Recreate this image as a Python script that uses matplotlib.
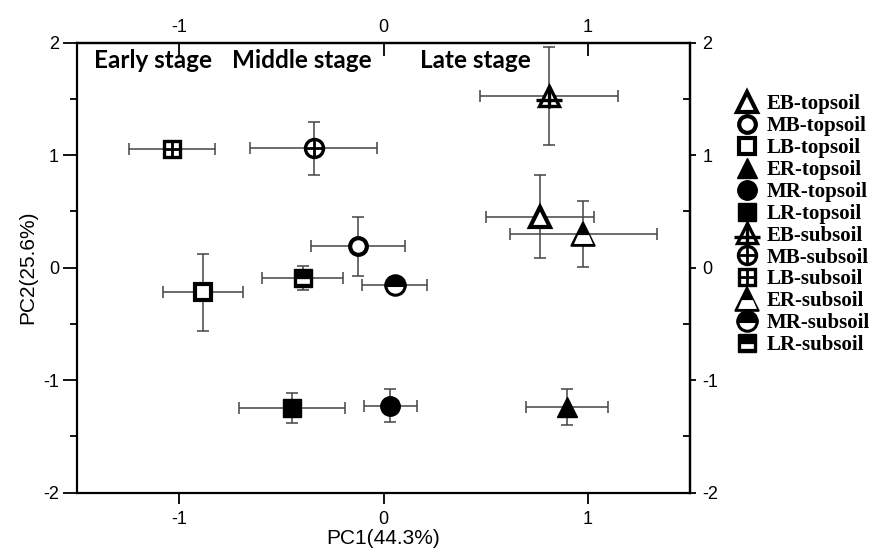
import matplotlib
matplotlib.use("Agg")
import matplotlib.pyplot as plt
from matplotlib.legend_handler import HandlerTuple
from matplotlib.lines import Line2D
from matplotlib.markers import MarkerStyle
from matplotlib.path import Path
from matplotlib.transforms import Affine2D
from matplotlib.ticker import MultipleLocator

# ---- data ----
labels = ["EB-topsoil", "MB-topsoil", "LB-topsoil", "ER-topsoil", "MR-topsoil", "LR-topsoil",
          "EB-subsoil", "MB-subsoil", "LB-subsoil", "ER-subsoil", "MR-subsoil", "LR-subsoil"]
pc1 = [0.765, -0.126, -0.884, 0.897, 0.034, -0.446, 0.81, -0.342, -1.036, 0.978, 0.055, -0.396]
pc2 = [0.455, 0.19, -0.22, -1.24, -1.226, -1.247, 1.527, 1.06, 1.054, 0.30, -0.154, -0.092]
pc1_err = [0.265, 0.23, 0.194, 0.2, 0.13, 0.26, 0.34, 0.31, 0.21, 0.36, 0.16, 0.2]
pc2_err = [0.37, 0.26, 0.34, 0.16, 0.145, 0.134, 0.435, 0.235, 0.0, 0.29, 0.05, 0.11]
stage_labels = ["Early stage", "Middle stage", "Late stage"]
ticks_x = [-1, 0, 1]
ticks_y = [-2, -1, 0, 1, 2]

plt.rcParams['font.family'] = ['Liberation Sans', 'DejaVu Sans']
plt.rcParams['axes.unicode_minus'] = False

# custom markers
M, L = Path.MOVETO, Path.LINETO
tri_cross = Path([(0, 1), (0, -1.25), (-1.3, -0.45), (1.3, -0.45)], [M, L, M, L])
tri_band = Path([(-0.8, -0.8), (0.8, -0.8), (0.47, -0.05), (-0.47, -0.05), (-0.8, -0.8)],
                closed=True)
sq_bar = MarkerStyle('s', transform=Affine2D().scale(0.62, 0.2).translate(0, -0.17))

K = 'black'
W = 'white'

def style(i):
    if i == 0:
        return [dict(marker='^', ms=15, mfc=W, mec=K, mew=3)]
    if i == 1:
        return [dict(marker='o', ms=12, mfc=W, mec=K, mew=3)]
    if i == 2:
        return [dict(marker='s', ms=11, mfc=W, mec=K, mew=3)]
    if i == 3:
        return [dict(marker='^', ms=15, mfc=K, mec=K, mew=1)]
    if i == 4:
        return [dict(marker='o', ms=14, mfc=K, mec=K, mew=1)]
    if i == 5:
        return [dict(marker='s', ms=13, mfc=K, mec=K, mew=1)]
    if i == 6:
        return [dict(marker='^', ms=14, mfc=W, mec=K, mew=2.4),
                dict(marker=tri_cross, ms=14 * 1.3, mfc='none', mec=K, mew=2.4)]
    if i == 7:
        return [dict(marker='o', ms=13, mfc=W, mec=K, mew=2.4),
                dict(marker='+', ms=12, mfc='none', mec=K, mew=2.0)]
    if i == 8:
        return [dict(marker='s', ms=11, mfc=W, mec=K, mew=2.4),
                dict(marker='+', ms=10, mfc='none', mec=K, mew=2.0)]
    if i == 9:
        return [dict(marker='^', ms=17, mfc=K, mec=K, mew=1.2),
                dict(marker=tri_band, ms=17 * 0.8, mfc=W, mec='none', mew=0)]
    if i == 10:
        return [dict(marker='o', ms=14, mfc=K, mec=K, mew=2.2, fillstyle='top',
                     markerfacecoloralt=W)]
    if i == 11:
        return [dict(marker='s', ms=13, mfc=K, mec=K, mew=1),
                dict(marker=sq_bar, ms=13, mfc=W, mec=W, mew=0.5)]

fig = plt.figure(figsize=(8.85, 5.53), dpi=100)
ax = fig.add_axes([77/885, 1 - 492.7/553, (690-77)/885, (492.7-42.7)/553])
ax.set_xlim(-1.5, 1.5)
ax.set_ylim(-2, 2)

for i in range(len(labels)):
    ax.errorbar(pc1[i], pc2[i], xerr=pc1_err[i], yerr=pc2_err[i] if pc2_err[i] > 0 else None,
                fmt='none', ecolor='#444444', elinewidth=1.1, capsize=4, capthick=1.1, zorder=2)
    for kw in style(i):
        ax.plot([pc1[i]], [pc2[i]], linestyle='none', zorder=3, **kw)

for sp in ax.spines.values():
    sp.set_linewidth(1.6)
ax.set_xticks(ticks_x)
ax.set_yticks(ticks_y)
ax.yaxis.set_minor_locator(MultipleLocator(0.5))
ax.tick_params(axis='x', which='major', direction='out', length=8, width=1.3, labelsize=13, pad=5)
ax.tick_params(axis='y', which='major', direction='out', length=10, width=1.3, labelsize=13, pad=3)
ax.tick_params(axis='y', which='minor', direction='out', length=5, width=1.3)

secx = ax.secondary_xaxis('top')
secx.set_xticks(ticks_x)
secx.tick_params(direction='in', length=9, width=1.3, labelsize=13, pad=5)
secy = ax.secondary_yaxis('right')
secy.set_yticks(ticks_y)
secy.yaxis.set_minor_locator(MultipleLocator(0.5))
secy.tick_params(which='major', direction='out', length=4, width=1.3, labelsize=13, pad=5)
secy.tick_params(which='minor', direction='in', length=5, width=1.3)
for sp in list(secx.spines.values()) + list(secy.spines.values()):
    sp.set_linewidth(1.6)

ax.set_xlabel("PC1(44.3%)", fontsize=15, labelpad=1)
ax.set_ylabel("PC2(25.6%)", fontsize=15, labelpad=4)

stage_x = [0.028, 0.253, 0.560]
for sx, s in zip(stage_x, stage_labels):
    ax.text(sx, 0.96, s, transform=ax.transAxes, ha='left', va='center',
            fontsize=17.5, fontweight='bold', family=['Lato', 'DejaVu Sans'])

handles = []
for i in range(len(labels)):
    hs = tuple(Line2D([], [], linestyle='none', **kw) for kw in style(i))
    handles.append(hs)
leg = fig.legend(handles, labels, handler_map={tuple: HandlerTuple(ndivide=1)},
                 loc='upper left', bbox_to_anchor=(723/885, 1 - 84/553),
                 frameon=False, handlelength=1.3, handletextpad=0.3,
                 labelspacing=0.09, borderpad=0,
                 prop=dict(family='Liberation Serif', weight='bold', size=15))

fig.savefig("out.png", dpi=100)
